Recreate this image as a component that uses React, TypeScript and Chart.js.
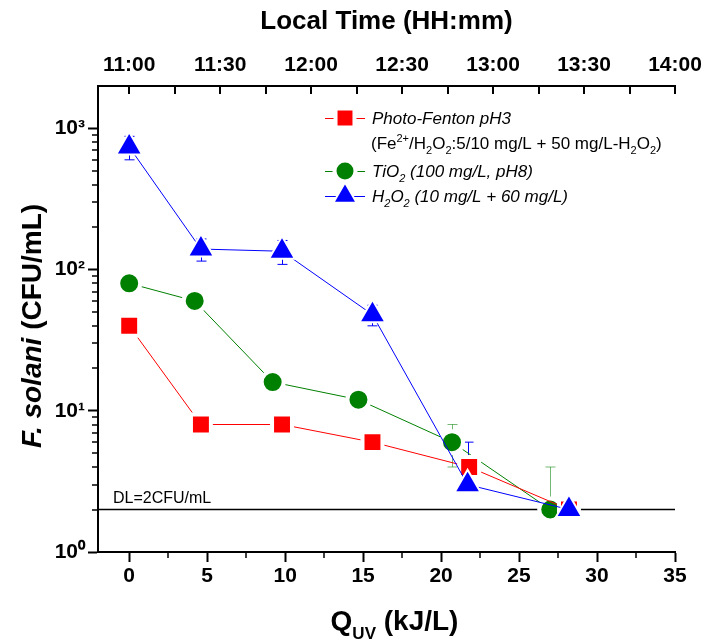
import React, { useEffect, useRef } from 'react';
import { Chart, registerables } from 'chart.js';

Chart.register(...registerables);

// ---------------- data ----------------
const qPhotoFenton = [0, 4.6, 9.8, 15.6, 21.8, 28.2];
const cfuPhotoFenton = [40, 8, 8, 6, 4, 2];
const errPhotoFenton = [0, 0, 0, 0, 0, 0];

const qTiO2 = [0, 4.2, 9.2, 14.7, 20.7, 27.0];
const cfuTiO2 = [80, 60, 16, 12, 6, 2];
const errTiO2 = [0, 0, 0, 2, 2, 2];

const qH2O2 = [0, 4.6, 9.8, 15.6, 21.7, 28.2];
const cfuH2O2 = [740, 140, 135, 48, 3, 2];
const errH2O2 = [140, 25, 26, 8, 3, 0];

const xTicks = [0, 5, 10, 15, 20, 25, 30, 35];
const xMinorTicks = [2.5, 7.5, 12.5, 17.5, 22.5, 27.5, 32.5];
const yTicks = [1, 10, 100, 1000];
const yTickLabels = ['10\u2070', '10\u00b9', '10\u00b2', '10\u00b3'];
const timeTickMinutes = [0, 30, 60, 90, 120, 150, 180];
const timeTickLabels = ['11:00', '11:30', '12:00', '12:30', '13:00', '13:30', '14:00'];
const timeMinorMinutes = [15, 45, 75, 105, 135, 165];
const detectionLimit = 2;
const detectionLabel = 'DL=2CFU/mL';

const X_MIN = -2;
const X_MAX = 35;
const T_MIN = (X_MIN * 180) / 35;
const T_MAX = 180;
const Y_MIN = 1;
const Y_MAX = 2000;

const FONT = '"Liberation Sans", Arial, Helvetica, sans-serif';
const RED = '#FF0000';
const GREEN = '#008000';
const BLUE = '#0000FF';

type Run = { t: string; font: string; dy?: number };

function runsWidth(ctx: CanvasRenderingContext2D, runs: Run[]) {
  let w = 0;
  for (const r of runs) {
    ctx.font = r.font;
    w += ctx.measureText(r.t).width;
  }
  return w;
}

function drawRuns(ctx: CanvasRenderingContext2D, x: number, y: number, runs: Run[]) {
  let cx = x;
  for (const r of runs) {
    ctx.font = r.font;
    ctx.fillText(r.t, cx, y + (r.dy || 0));
    cx += ctx.measureText(r.t).width;
  }
}

function drawMarker(ctx: CanvasRenderingContext2D, style: string, x: number, y: number, color: string) {
  ctx.save();
  ctx.fillStyle = color;
  ctx.strokeStyle = '#fff';
  ctx.beginPath();
  if (style === 'rect') {
    ctx.lineWidth = 4;
    const s = 13.4 * Math.SQRT1_2;
    ctx.rect(x - s, y - s, 2 * s, 2 * s);
  } else if (style === 'circle') {
    ctx.lineWidth = 4;
    ctx.arc(x, y, 10.5, 0, Math.PI * 2);
  } else {
    ctx.lineWidth = 2;
    const r = 13.5;
    ctx.moveTo(x, y - r);
    ctx.lineTo(x + 0.866 * r, y + 0.5 * r);
    ctx.lineTo(x - 0.866 * r, y + 0.5 * r);
    ctx.closePath();
  }
  ctx.fill();
  ctx.stroke();
  ctx.restore();
}

const errorSeries = [
  { q: qH2O2, v: cfuH2O2, e: errH2O2, color: BLUE },
  { q: qTiO2, v: cfuTiO2, e: errTiO2, color: 'rgba(0,128,0,0.55)' },
  { q: qPhotoFenton, v: cfuPhotoFenton, e: errPhotoFenton, color: RED },
];

const overlayPlugin = {
  id: 'overlay',
  beforeDatasetsDraw(chart: any) {
    const { ctx, chartArea: a, scales } = chart;
    const xs = scales.x;
    const ys = scales.y;
    ctx.save();
    // detection limit
    const yd = ys.getPixelForValue(detectionLimit);
    ctx.strokeStyle = '#000';
    ctx.lineWidth = 1.5;
    ctx.beginPath();
    ctx.moveTo(a.left, yd);
    ctx.lineTo(a.right, yd);
    ctx.stroke();
    ctx.fillStyle = '#000';
    ctx.textAlign = 'left';
    ctx.textBaseline = 'alphabetic';
    ctx.font = `16px ${FONT}`;
    ctx.fillText(detectionLabel, a.left + 15, yd - 7);
    // error bars
    ctx.lineWidth = 1;
    for (const s of errorSeries) {
      ctx.strokeStyle = s.color;
      for (let i = 0; i < s.q.length; i++) {
        const err = s.e[i];
        if (!err) continue;
        const px = Math.round(xs.getPixelForValue(s.q[i])) + 0.5;
        const pc = ys.getPixelForValue(s.v[i]);
        const pt = ys.getPixelForValue(s.v[i] + err);
        const low = s.v[i] - err;
        const pb = low > 0 ? ys.getPixelForValue(low) : pc;
        ctx.beginPath();
        ctx.moveTo(px, pt);
        ctx.lineTo(px, pb);
        ctx.moveTo(px - 5, pt);
        ctx.lineTo(px + 5, pt);
        if (low > 0) {
          ctx.moveTo(px - 5, pb);
          ctx.lineTo(px + 5, pb);
        }
        ctx.stroke();
      }
    }
    ctx.restore();
  },
  afterDraw(chart: any) {
    const { ctx, chartArea: a, scales } = chart;
    const xs = scales.x;
    const ys = scales.y;
    const ts = scales.xTop;
    ctx.save();
    ctx.strokeStyle = '#000';
    // minor ticks bottom
    ctx.lineWidth = 1.5;
    for (const v of xMinorTicks) {
      const px = Math.round(xs.getPixelForValue(v));
      ctx.beginPath();
      ctx.moveTo(px, a.bottom);
      ctx.lineTo(px, a.bottom + 6);
      ctx.stroke();
    }
    // minor ticks left (log)
    for (let d = 1; d < Y_MAX; d *= 10) {
      for (let m = 2; m <= 9; m++) {
        const v = d * m;
        if (v >= Y_MAX) continue;
        const py = Math.round(ys.getPixelForValue(v));
        ctx.beginPath();
        ctx.moveTo(a.left - 6, py);
        ctx.lineTo(a.left, py);
        ctx.stroke();
      }
    }
    // top axis inward ticks
    ctx.lineWidth = 2;
    for (const m of [...timeTickMinutes, ...timeMinorMinutes]) {
      const px = Math.round(ts.getPixelForValue(m));
      ctx.beginPath();
      ctx.moveTo(px, a.top);
      ctx.lineTo(px, a.top + 8);
      ctx.stroke();
    }

    // titles
    ctx.fillStyle = '#000';
    ctx.textBaseline = 'alphabetic';
    ctx.textAlign = 'center';
    ctx.font = `bold 26px ${FONT}`;
    ctx.fillText('Local Time (HH:mm)', (a.left + a.right) / 2, 29);

    ctx.textAlign = 'left';
    const bottomRuns: Run[] = [
      { t: 'Q', font: `bold 28px ${FONT}` },
      { t: 'UV', font: `bold 17px ${FONT}`, dy: 9 },
      { t: ' (kJ/L)', font: `bold 28px ${FONT}` },
    ];
    const bw = runsWidth(ctx, bottomRuns);
    drawRuns(ctx, (a.left + a.right) / 2 - bw / 2 + 8, 630, bottomRuns);

    const leftRuns: Run[] = [
      { t: 'F. solani', font: `italic bold 28px ${FONT}` },
      { t: ' (CFU/mL)', font: `bold 28px ${FONT}` },
    ];
    const lw = runsWidth(ctx, leftRuns);
    ctx.save();
    ctx.translate(41, 326);
    ctx.rotate(-Math.PI / 2);
    drawRuns(ctx, -lw / 2, 0, leftRuns);
    ctx.restore();

    // legend
    const lx0 = 325;
    const lx1 = 365;
    const tx = 372;
    const it = `italic 17px ${FONT}`;
    const nt = `17px ${FONT}`;
    const its = `italic 11px ${FONT}`;
    const nts = `11px ${FONT}`;
    const rows = [
      { y: 118, color: RED, style: 'rect' },
      { y: 171, color: GREEN, style: 'circle' },
      { y: 196, color: BLUE, style: 'triangle' },
    ];
    for (const r of rows) {
      ctx.strokeStyle = r.color;
      ctx.lineWidth = 1;
      ctx.beginPath();
      ctx.moveTo(lx0, r.y + 0.5);
      ctx.lineTo(lx1, r.y + 0.5);
      ctx.stroke();
      drawMarker(ctx, r.style, (lx0 + lx1) / 2, r.y, r.color);
    }
    ctx.fillStyle = '#000';
    drawRuns(ctx, tx, 124, [{ t: 'Photo-Fenton pH3', font: it }]);
    drawRuns(ctx, tx - 1, 149, [
      { t: '(Fe', font: nt },
      { t: '2+', font: nts, dy: -7 },
      { t: '/H', font: nt },
      { t: '2', font: nts, dy: 5 },
      { t: 'O', font: nt },
      { t: '2', font: nts, dy: 5 },
      { t: ':5/10 mg/L + 50 mg/L-H', font: nt },
      { t: '2', font: nts, dy: 5 },
      { t: 'O', font: nt },
      { t: '2', font: nts, dy: 5 },
      { t: ')', font: nt },
    ]);
    drawRuns(ctx, tx, 177, [
      { t: 'TiO', font: it },
      { t: '2', font: its, dy: 5 },
      { t: ' (100 mg/L, pH8)', font: it },
    ]);
    drawRuns(ctx, tx, 202, [
      { t: 'H', font: it },
      { t: '2', font: its, dy: 5 },
      { t: 'O', font: it },
      { t: '2', font: its, dy: 5 },
      { t: ' (10 mg/L + 60 mg/L)', font: it },
    ]);
    ctx.restore();
  },
};

function toPoints(q: number[], v: number[]) {
  return q.map((x, i) => ({ x, y: v[i] }));
}

const tickFont = { family: FONT, size: 21, weight: 'bold' as const };

export default function App() {
  const ref = useRef<HTMLCanvasElement>(null);

  useEffect(() => {
    const canvas = ref.current;
    if (!canvas) return;
    const chart = new Chart(canvas, {
      type: 'line',
      data: {
        datasets: [
          {
            label: 'Photo-Fenton pH3',
            data: toPoints(qPhotoFenton, cfuPhotoFenton),
            borderColor: RED,
            borderWidth: 1,
            pointStyle: 'rect',
            pointRadius: 14.1,
            pointBackgroundColor: RED,
            pointBorderColor: '#fff',
            pointBorderWidth: 4,
            order: 1,
          },
          {
            label: 'TiO2 (100 mg/L, pH8)',
            data: toPoints(qTiO2, cfuTiO2),
            borderColor: GREEN,
            borderWidth: 1,
            pointStyle: 'circle',
            pointRadius: 11,
            pointBackgroundColor: GREEN,
            pointBorderColor: '#fff',
            pointBorderWidth: 4,
            order: 2,
          },
          {
            label: 'H2O2 (10 mg/L + 60 mg/L)',
            data: toPoints(qH2O2, cfuH2O2),
            borderColor: BLUE,
            borderWidth: 1,
            pointStyle: 'triangle',
            pointRadius: 15,
            pointBackgroundColor: BLUE,
            pointBorderColor: '#fff',
            pointBorderWidth: 2,
            order: 0,
          },
        ],
      },
      options: {
        animation: false,
        responsive: false,
        events: [],
        layout: { padding: { left: 0, right: 32, top: 0, bottom: 0 } },
        plugins: {
          legend: { display: false },
          tooltip: { enabled: false },
        },
        elements: { line: { tension: 0 } },
        scales: {
          x: {
            type: 'linear',
            position: 'bottom',
            min: X_MIN,
            max: X_MAX,
            afterBuildTicks: (s: any) => {
              s.ticks = xTicks.map((v) => ({ value: v }));
            },
            afterFit: (s: any) => {
              s.height = 91;
              s.paddingLeft = 0;
              s.paddingRight = 0;
            },
            ticks: {
              font: tickFont,
              color: '#000',
              padding: 2,
              maxRotation: 0,
              autoSkip: false,
              callback: (v: any) => String(v),
            },
            grid: {
              drawOnChartArea: false,
              drawTicks: true,
              tickLength: 10,
              tickWidth: 2,
              tickColor: '#000',
            },
            border: { display: true, color: '#000', width: 2 },
          },
          xTop: {
            type: 'linear',
            position: 'top',
            axis: 'x',
            min: T_MIN,
            max: T_MAX,
            afterBuildTicks: (s: any) => {
              s.ticks = timeTickMinutes.map((v) => ({ value: v }));
            },
            afterFit: (s: any) => {
              s.height = 86;
              s.paddingLeft = 0;
              s.paddingRight = 0;
            },
            ticks: {
              font: tickFont,
              color: '#000',
              padding: 8,
              maxRotation: 0,
              autoSkip: false,
              callback: (_v: any, i: number) => timeTickLabels[i],
            },
            grid: { display: false, drawTicks: false },
            border: { display: true, color: '#000', width: 2 },
          },
          y: {
            type: 'logarithmic',
            position: 'left',
            min: Y_MIN,
            max: Y_MAX,
            afterBuildTicks: (s: any) => {
              s.ticks = yTicks.map((v) => ({ value: v }));
            },
            afterFit: (s: any) => {
              s.width = 98;
              s.paddingTop = 0;
              s.paddingBottom = 0;
            },
            ticks: {
              font: tickFont,
              color: '#000',
              padding: 3,
              autoSkip: false,
              callback: (_v: any, i: number) => yTickLabels[i],
            },
            grid: {
              drawOnChartArea: false,
              drawTicks: true,
              tickLength: 10,
              tickWidth: 2,
              tickColor: '#000',
            },
            border: { display: true, color: '#000', width: 2 },
          },
        },
      } as any,
      plugins: [overlayPlugin],
    });
    return () => chart.destroy();
  }, []);

  return (
    <div style={{ position: 'fixed', left: 0, top: 0, width: 707, height: 643, background: '#fff' }}>
      <canvas ref={ref} width={707} height={643} style={{ display: 'block', width: 707, height: 643 }} />
    </div>
  );
}
